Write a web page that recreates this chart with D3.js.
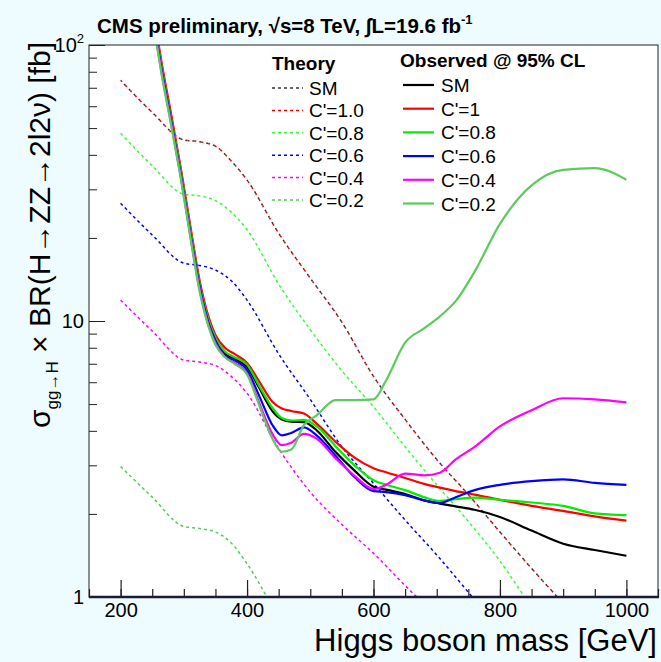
<!DOCTYPE html>
<html><head><meta charset="utf-8">
<script src="https://cdn.jsdelivr.net/npm/d3@7"></script>
<style>body{margin:0;background:#eefcff;} svg{display:block;font-family:"Liberation Sans",Arial,sans-serif;}</style>
</head><body><svg id="c" width="661" height="662"></svg>
<script>
// ---- data ----
const massTheory = [200,250,300,325,350,375,400,450,500,550,600,650,700,750,800,850,900,950,1000];
const theorySM  = [74.5,57,45.3,44.6,43.0,38.0,32.4,20.8,14.3,9.9,6.3,4.4,3.15,2.35,1.72,1.27,0.95,0.72,0.55];
const theoryC10 = [74.5,57,45.3,44.6,43.0,38.0,32.4,20.8,14.3,9.9,6.3,4.4,3.15,2.35,1.72,1.27,0.95,0.72,0.55];
const theoryC08 = [47.9,36.5,28.8,28.4,27.3,24.8,21.4,13.6,9.3,6.6,4.89,3.5,2.55,1.88,1.35,0.92,0.65,0.48,0.35];
const theoryC06 = [26.7,20.5,16.2,15.9,15.3,14.0,11.9,7.6,5.2,3.5,2.58,1.9,1.42,1.04,0.75,0.55,0.4,0.3,0.22];
const theoryC04 = [11.9,9.2,7.22,7.1,6.9,6.3,5.47,3.45,2.4,1.83,1.44,1.1,0.85,0.65,0.5,0.39,0.3,0.23,0.18];
const theoryC02 = [2.97,2.3,1.80,1.77,1.72,1.57,1.32,0.85,0.6,0.46,0.36,0.28,0.22,0.17,0.13,0.1,0.08,0.06,0.05];

const massObs = [250,265,280,295,310,325,340,350,365,380,400,420,440,455,470,490,510,540,570,600,620,650,680,705,730,760,800,850,900,950,1000];
const obsSM  = [136,83,54,35,21.6,13.6,9.9,8.6,7.6,7.3,6.83,5.68,4.72,4.4,4.32,4.3,4.02,3.35,2.87,2.51,2.45,2.36,2.24,2.18,2.13,2.07,1.95,1.74,1.56,1.48,1.41];
const obsC10 = [140,86,56,36,22.3,14.0,10.2,8.9,8.0,7.6,7.05,6.0,5.1,4.82,4.72,4.62,4.25,3.65,3.2,2.93,2.83,2.7,2.57,2.49,2.42,2.35,2.25,2.14,2.05,1.96,1.89];
const obsC08 = [136,83,54,35,21.6,13.6,9.95,8.7,7.75,7.4,6.95,5.78,4.85,4.45,4.36,4.38,4.15,3.52,3.0,2.65,2.55,2.44,2.3,2.23,2.26,2.29,2.25,2.2,2.14,2.01,1.98];
const obsC06 = [133,81,53,34,21,13.3,9.7,8.5,7.5,7.2,6.64,5.3,4.2,3.85,3.93,4.12,3.85,3.25,2.72,2.42,2.4,2.34,2.24,2.19,2.3,2.44,2.55,2.63,2.67,2.59,2.55];
const obsC04 = [130,79,52,33.5,20.6,13.0,9.5,8.3,7.4,7.05,6.46,5.0,3.9,3.55,3.62,3.9,3.75,3.18,2.75,2.46,2.55,2.8,2.76,2.82,3.15,3.5,4.15,4.75,5.25,5.2,5.07];
const obsC02 = [128,78,51,33,20.3,12.8,9.4,8.2,7.4,7.0,6.4,4.9,3.75,3.36,3.42,4.2,4.55,5.17,5.17,5.2,6.1,8.35,9.4,10.4,11.8,15.1,22.5,31.0,35.3,35.8,32.5];

const xTickValues = [200,400,600,800,1000];
const xTickLabels = ["200","400","600","800","1000"];
const yTickValues = [1,10,100];
const yTickLabels = [["1",""],["10",""],["10","2"]];
const theoryLabels = ["SM","C'=1.0","C'=0.8","C'=0.6","C'=0.4","C'=0.2"];
const obsLabels = ["SM","C'=1","C'=0.8","C'=0.6","C'=0.4","C'=0.2"];

// ---- styles ----
const theoryColors = ["#333333","#ff0000","#33ff33","#0000ff","#ff00ff","#55cc55"];
const obsColors = ["#000000","#ff0000","#00ee00","#0000ff","#ff00ff","#5ccb5c"];

const W = 661, H = 662;
const L = 89, R = 658, T = 45, B = 597;
const svg = d3.select("#c");
svg.append("rect").attr("width",W).attr("height",H).attr("fill","#eefcff");
svg.append("rect").attr("x",L).attr("y",T).attr("width",R-L).attr("height",B-T).attr("fill","#fff");

const x = d3.scaleLinear().domain([150,1050]).range([L,R]);
const y = d3.scaleLog().domain([1,100]).range([B,T]);

svg.append("clipPath").attr("id","clip").append("rect").attr("x",L).attr("y",T).attr("width",R-L).attr("height",B-T);
const plot = svg.append("g").attr("clip-path","url(#clip)");

const line = d3.line().x(d=>x(d[0])).y(d=>y(d[1])).curve(d3.curveMonotoneX);

const theorySeries = [theorySM,theoryC10,theoryC08,theoryC06,theoryC04,theoryC02];
[1,0,2,3,4,5].forEach(i=>{
  const pair = (i===0||i===1);
  plot.append("path").datum(massTheory.map((m,k)=>[m,theorySeries[i][k]]))
    .attr("d",line).attr("fill","none").attr("stroke",theoryColors[i])
    .attr("stroke-width",1.5).attr("stroke-dasharray", pair ? "2,5" : "3,3")
    .attr("stroke-dashoffset", i===0?2:0);
});
const obsSeries = [obsSM,obsC10,obsC08,obsC06,obsC04,obsC02];
[0,1,2,3,4,5].forEach(i=>{
  plot.append("path").datum(massObs.map((m,k)=>[m,obsSeries[i][k]]))
    .attr("d",line).attr("fill","none").attr("stroke",obsColors[i])
    .attr("stroke-width",2.2);
});

// frame
svg.append("rect").attr("x",L).attr("y",T).attr("width",R-L).attr("height",B-T)
  .attr("fill","none").attr("stroke","#222").attr("stroke-width",1);
svg.append("line").attr("x1",L).attr("x2",R+1).attr("y1",B).attr("y2",B).attr("stroke","#1a1a3a").attr("stroke-width",2.5);

// x axis
const gx = svg.append("g").attr("transform",`translate(0,${B})`);
gx.call(d3.axisBottom(x).tickValues(d3.range(150,1051,50)).tickSizeInner(-8).tickSizeOuter(0).tickFormat(""));
gx.call(g=>g.select(".domain").remove());
const gx2 = svg.append("g").attr("transform",`translate(0,${B})`);
gx2.call(d3.axisBottom(x).tickValues(xTickValues).tickSizeInner(-17).tickSizeOuter(0).tickPadding(6)
  .tickFormat((d,i)=>xTickLabels[i]));
gx2.select(".domain").remove();
gx2.attr("font-family","Liberation Sans, Arial, sans-serif");
gx2.selectAll("text").attr("font-size",20).attr("fill","#000");
svg.selectAll(".tick line").attr("stroke","#222").attr("stroke-width",1.2);

// y axis
const yMinor = [2,3,4,5,6,7,8,9,20,30,40,50,60,70,80,90];
const gy = svg.append("g").attr("transform",`translate(${L},0)`);
gy.call(d3.axisLeft(y).tickValues(yMinor).tickSizeInner(-8).tickSizeOuter(0).tickFormat(""));
gy.select(".domain").remove();
const gy2 = svg.append("g").attr("transform",`translate(${L},0)`);
gy2.call(d3.axisLeft(y).tickValues(yTickValues).tickSizeInner(-16).tickSizeOuter(0).tickFormat(""));
gy2.select(".domain").remove();
gy.selectAll(".tick line").attr("stroke","#222");
gy2.selectAll(".tick line").attr("stroke","#222");
yTickValues.forEach((v,i)=>{
  const t = svg.append("text").attr("x",84).attr("y",y(v)+7).attr("text-anchor","end")
    .attr("font-size",20).text(yTickLabels[i][0]);
  if (yTickLabels[i][1]) {
    t.append("tspan").attr("font-size",13).attr("dy",-9).text(yTickLabels[i][1]);
  }
});

// titles
const title = svg.append("text").attr("x",97).attr("y",33).attr("font-size",20.5).attr("font-weight","bold")
  .text("CMS preliminary, \u221As=8 TeV, \u222BL=19.6 fb");
title.append("tspan").attr("font-size",13).attr("dy",-9).text("-1");

svg.append("text").attr("x",657).attr("y",651).attr("text-anchor","end").attr("font-size",31)
  .text("Higgs boson mass [GeV]");

const yt = svg.append("text").attr("transform","rotate(-90)").attr("x",-42).attr("y",50)
  .attr("text-anchor","end").attr("font-size",30);
yt.append("tspan").text("\u03C3");
yt.append("tspan").attr("font-size",17).attr("dy",8).text("gg\u2192H");
yt.append("tspan").attr("dy",-8).text(" \u00D7 BR(H\u2192ZZ\u21922l2\u03BD) [fb]");

// legends
const lg1 = svg.append("g");
lg1.append("text").attr("x",272).attr("y",70).attr("font-size",19).attr("font-weight","bold").text("Theory");
theoryLabels.forEach((s,i)=>{
  const cy = 88 + i*22.4;
  lg1.append("line").attr("x1",272).attr("x2",303).attr("y1",cy).attr("y2",cy)
    .attr("stroke",theoryColors[i]).attr("stroke-width",1.5).attr("stroke-dasharray","3,3");
  lg1.append("text").attr("x",309).attr("y",cy+7).attr("font-size",19).text(s);
});
const lg2 = svg.append("g");
lg2.append("text").attr("x",400).attr("y",67).attr("font-size",19).attr("font-weight","bold").text("Observed @ 95% CL");
obsLabels.forEach((s,i)=>{
  const cy = 85 + i*23.7;
  lg2.append("line").attr("x1",403).attr("x2",434).attr("y1",cy).attr("y2",cy)
    .attr("stroke",obsColors[i]).attr("stroke-width",2.2);
  lg2.append("text").attr("x",441).attr("y",cy+7).attr("font-size",19).text(s);
});
</script></body></html>
